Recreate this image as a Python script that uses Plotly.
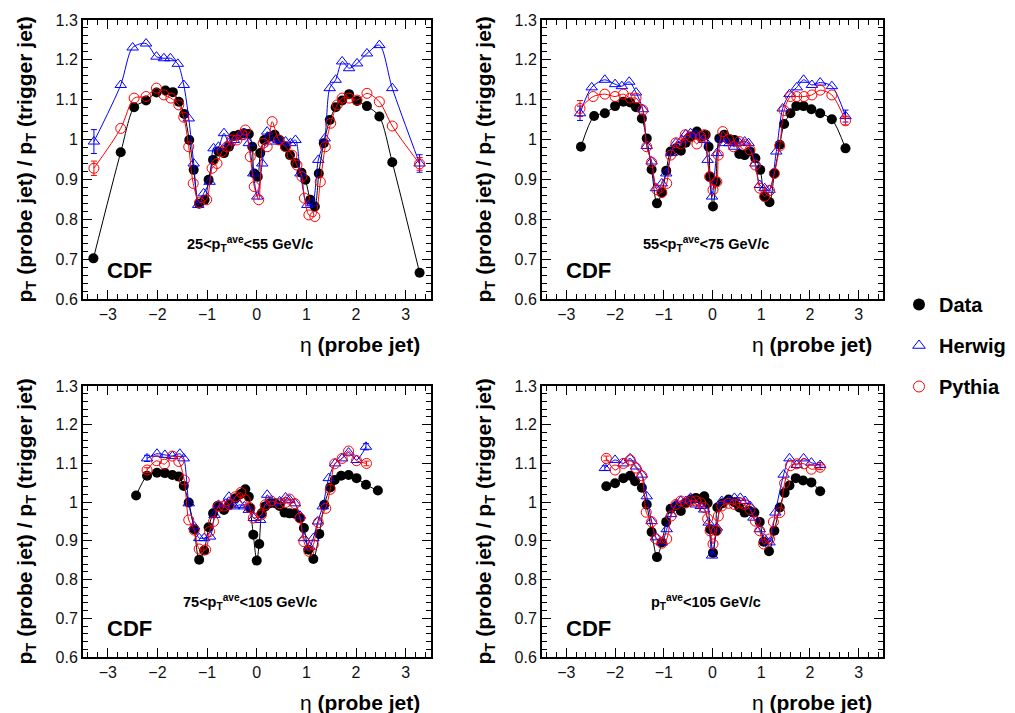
import plotly.graph_objects as go

# ---------------- data ----------------
# Panel 1: 25 < pT_ave < 55
eta_d1 = [-3.29, -2.74, -2.47, -2.23, -2.02, -1.84, -1.69, -1.57, -1.46, -1.36, -1.27, -1.16, -1.05, -0.97, -0.88,
          -0.77, -0.66, -0.56, -0.46, -0.36, -0.26, -0.16, -0.09, -0.05, 0.02, 0.07, 0.15, 0.26, 0.36, 0.46, 0.57,
          0.67, 0.78, 0.90, 0.98, 1.08, 1.17, 1.25, 1.35, 1.47, 1.59, 1.72, 1.86, 2.02, 2.22, 2.47, 2.73, 3.28]
val_d1 = [0.702, 0.968, 1.081, 1.098, 1.118, 1.123, 1.119, 1.095, 1.064, 0.999, 0.924, 0.839, 0.849, 0.899, 0.949,
          0.970, 0.966, 0.982, 1.009, 1.012, 1.016, 1.014, 0.982, 0.915, 0.907, 0.966, 0.999, 1.007, 1.012, 0.999,
          0.982, 0.961, 0.941, 0.917, 0.899, 0.849, 0.832, 0.915, 0.991, 1.049, 1.081, 1.098, 1.114, 1.097, 1.084,
          1.058, 0.943, 0.666]
eta_h1 = [-3.28, -2.74, -2.50, -2.23, -2.02, -1.87, -1.74, -1.59, -1.47, -1.37, -1.27, -1.18, -1.07, -0.95, -0.87,
          -0.77, -0.66, -0.56, -0.46, -0.34, -0.26, -0.16, -0.07, 0.01, 0.11, 0.21, 0.31, 0.44, 0.58, 0.68, 0.78,
          0.88, 1.02, 1.12, 1.24, 1.37, 1.47, 1.59, 1.72, 1.86, 2.02, 2.22, 2.47, 2.73, 3.28]
val_h1 = [0.995, 1.137, 1.231, 1.241, 1.208, 1.204, 1.204, 1.190, 1.137, 1.053, 0.940, 0.836, 0.865, 0.894, 0.978,
          0.982, 1.016, 0.991, 0.999, 1.007, 1.016, 0.991, 0.915, 0.857, 0.940, 1.020, 0.995, 0.999, 0.995, 0.991,
          0.999, 0.915, 0.836, 0.840, 0.949, 1.003, 1.129, 1.150, 1.196, 1.179, 1.191, 1.216, 1.237, 1.129, 0.940]
eta_p1 = [-3.28, -2.74, -2.47, -2.23, -2.02, -1.87, -1.73, -1.57, -1.47, -1.37, -1.28, -1.15, -1.01, -0.90, -0.80,
          -0.70, -0.60, -0.50, -0.40, -0.30, -0.23, -0.13, -0.05, 0.04, 0.13, 0.21, 0.31, 0.44, 0.58, 0.71, 0.81,
          0.91, 0.96, 1.05, 1.17, 1.28, 1.38, 1.49, 1.62, 1.72, 1.86, 2.02, 2.22, 2.47, 2.73, 3.28]
val_p1 = [0.928, 1.028, 1.104, 1.108, 1.129, 1.112, 1.104, 1.087, 1.056, 0.982, 0.890, 0.842, 0.849, 0.928, 0.940,
          0.970, 0.982, 0.999, 0.999, 1.012, 1.024, 0.957, 0.882, 0.849, 0.991, 0.982, 1.045, 0.999, 0.982, 0.961,
          0.936, 0.907, 0.853, 0.811, 0.807, 0.894, 0.982, 1.041, 1.087, 1.104, 1.104, 1.099, 1.116, 1.095, 1.034,
          0.939]

# Panel 2: 55 < pT_ave < 75
eta_d2 = [-2.70, -2.43, -2.21, -2.00, -1.83, -1.69, -1.57, -1.45, -1.35, -1.25, -1.14, -1.04, -0.95, -0.86, -0.75,
          -0.65, -0.55, -0.45, -0.32, -0.22, -0.14, -0.08, -0.05, 0.01, 0.07, 0.14, 0.24, 0.35, 0.45, 0.55, 0.66,
          0.77, 0.88, 0.98, 1.07, 1.17, 1.27, 1.38, 1.47, 1.60, 1.72, 1.87, 2.03, 2.21, 2.45, 2.73]
val_d2 = [0.982, 1.059, 1.066, 1.084, 1.095, 1.093, 1.081, 1.053, 1.003, 0.925, 0.840, 0.867, 0.922, 0.970, 0.978,
          0.972, 0.992, 1.007, 1.020, 1.007, 1.012, 0.982, 0.907, 0.832, 0.894, 1.003, 1.012, 1.001, 0.999, 0.964,
          0.961, 0.970, 0.953, 0.924, 0.857, 0.843, 0.915, 0.987, 1.039, 1.066, 1.084, 1.084, 1.076, 1.066, 1.051,
          0.978]
eta_h2 = [-2.72, -2.48, -2.21, -2.00, -1.86, -1.71, -1.57, -1.43, -1.35, -1.25, -1.16, -1.04, -0.95, -0.84, -0.75,
          -0.63, -0.55, -0.45, -0.34, -0.24, -0.17, -0.10, -0.01, 0.09, 0.18, 0.26, 0.35, 0.45, 0.55, 0.66, 0.74,
          0.88, 0.97, 1.07, 1.17, 1.31, 1.44, 1.58, 1.73, 1.87, 2.04, 2.21, 2.45, 2.73]
val_h2 = [1.066, 1.131, 1.150, 1.139, 1.134, 1.145, 1.118, 1.076, 0.984, 0.945, 0.878, 0.890, 0.915, 0.966, 0.991,
          0.999, 1.013, 1.016, 1.012, 1.009, 0.999, 0.949, 0.857, 0.966, 1.003, 0.991, 0.991, 0.982, 0.992, 0.995,
          0.991, 0.940, 0.886, 0.878, 0.874, 0.970, 1.078, 1.114, 1.131, 1.150, 1.137, 1.143, 1.134, 1.059]
eta_p2 = [-2.72, -2.45, -2.21, -2.00, -1.83, -1.69, -1.57, -1.43, -1.35, -1.25, -1.14, -1.04, -0.94, -0.86, -0.75,
          -0.65, -0.56, -0.45, -0.32, -0.24, -0.17, -0.06, 0.01, 0.09, 0.12, 0.21, 0.33, 0.43, 0.55, 0.67, 0.77,
          0.88, 0.97, 1.07, 1.17, 1.27, 1.38, 1.47, 1.60, 1.73, 1.88, 2.04, 2.21, 2.45, 2.73]
val_p2 = [1.078, 1.108, 1.114, 1.108, 1.114, 1.104, 1.104, 1.074, 0.982, 0.943, 0.874, 0.867, 0.890, 0.961, 0.992,
          0.989, 1.012, 1.007, 0.989, 1.007, 1.012, 0.907, 0.874, 0.894, 0.961, 1.020, 1.001, 0.982, 0.995, 0.987,
          0.974, 0.936, 0.878, 0.857, 0.872, 0.915, 0.984, 1.073, 1.108, 1.108, 1.108, 1.112, 1.124, 1.112, 1.047]

# Panel 3: 75 < pT_ave < 105
eta_d3 = [-2.43, -2.21, -2.01, -1.85, -1.70, -1.57, -1.47, -1.37, -1.26, -1.16, -1.06, -0.97, -0.88, -0.79, -0.66,
          -0.56, -0.43, -0.32, -0.23, -0.16, -0.13, -0.07, 0.00, 0.05, 0.10, 0.17, 0.27, 0.37, 0.46, 0.56, 0.66,
          0.77, 0.87, 0.95, 1.04, 1.14, 1.26, 1.36, 1.48, 1.57, 1.70, 1.85, 2.01, 2.20, 2.44]
val_d3 = [1.017, 1.068, 1.076, 1.075, 1.070, 1.066, 1.042, 0.999, 0.930, 0.851, 0.875, 0.935, 0.971, 0.990, 0.980,
          0.993, 1.010, 1.021, 1.033, 1.014, 0.984, 0.916, 0.849, 0.892, 0.971, 0.989, 0.997, 0.997, 0.990, 0.973,
          0.971, 0.970, 0.959, 0.933, 0.877, 0.853, 0.918, 0.993, 1.038, 1.057, 1.068, 1.070, 1.062, 1.045, 1.030]
eta_h3 = [-2.21, -2.01, -1.85, -1.70, -1.55, -1.47, -1.37, -1.26, -1.16, -1.06, -0.94, -0.85, -0.77, -0.66, -0.56,
          -0.46, -0.34, -0.25, -0.16, -0.06, 0.07, 0.21, 0.31, 0.46, 0.58, 0.66, 0.77, 0.87, 0.95, 1.06, 1.14,
          1.23, 1.33, 1.45, 1.58, 1.72, 1.85, 2.01, 2.20]
val_h3 = [1.113, 1.125, 1.122, 1.119, 1.125, 1.113, 0.997, 0.937, 0.907, 0.907, 0.911, 0.967, 0.993, 0.993, 1.014,
          0.989, 0.993, 0.989, 0.980, 0.959, 0.954, 1.019, 0.997, 1.002, 1.012, 1.006, 0.997, 0.965, 0.907, 0.885,
          0.907, 0.950, 0.989, 1.062, 1.100, 1.113, 1.128, 1.109, 1.143]
eta_p3 = [-2.21, -2.02, -1.86, -1.70, -1.57, -1.46, -1.37, -1.26, -1.16, -1.03, -0.95, -0.87, -0.77, -0.66, -0.55,
          -0.43, -0.32, -0.23, -0.14, -0.07, 0.09, 0.17, 0.29, 0.46, 0.58, 0.66, 0.77, 0.87, 0.95, 1.05, 1.14,
          1.24, 1.39, 1.48, 1.57, 1.72, 1.85, 2.01, 2.21]
val_p3 = [1.083, 1.107, 1.098, 1.119, 1.105, 1.057, 0.954, 0.928, 0.879, 0.877, 0.924, 0.950, 0.989, 0.990, 0.993,
          1.014, 1.025, 1.006, 0.986, 0.959, 0.967, 0.993, 1.003, 0.996, 0.999, 1.008, 0.996, 0.959, 0.898, 0.873,
          0.890, 0.947, 0.984, 1.033, 1.099, 1.113, 1.132, 1.107, 1.100]

# Panel 4: pT_ave > 105
eta_d4 = [-2.18, -2.00, -1.83, -1.69, -1.59, -1.45, -1.35, -1.25, -1.14, -1.04, -0.95, -0.86, -0.75, -0.65, -0.55,
          -0.45, -0.34, -0.24, -0.17, -0.10, -0.05, 0.01, 0.07, 0.10, 0.21, 0.33, 0.45, 0.55, 0.66, 0.76, 0.86,
          0.97, 1.05, 1.16, 1.27, 1.38, 1.48, 1.58, 1.71, 1.86, 2.03, 2.21]
val_d4 = [1.041, 1.049, 1.062, 1.068, 1.054, 1.037, 0.994, 0.923, 0.858, 0.896, 0.949, 0.983, 0.990, 0.977, 0.998,
          1.007, 1.011, 1.007, 1.015, 0.998, 0.930, 0.869, 0.926, 0.986, 0.997, 1.007, 1.000, 0.986, 0.973, 0.977,
          0.973, 0.949, 0.898, 0.873, 0.926, 0.986, 1.024, 1.043, 1.062, 1.056, 1.051, 1.028]
eta_h4 = [-2.21, -2.00, -1.83, -1.69, -1.57, -1.45, -1.35, -1.25, -1.16, -1.04, -0.94, -0.85, -0.75, -0.65, -0.55,
          -0.45, -0.34, -0.24, -0.17, -0.08, -0.01, 0.09, 0.19, 0.33, 0.45, 0.57, 0.67, 0.77, 0.84, 0.97, 1.07,
          1.17, 1.29, 1.46, 1.58, 1.73, 1.87, 2.03, 2.21]
val_h4 = [1.088, 1.109, 1.100, 1.113, 1.092, 1.071, 1.015, 0.951, 0.909, 0.896, 0.930, 0.969, 0.994, 1.003, 1.003,
          1.011, 0.994, 0.990, 0.981, 0.947, 0.862, 0.934, 1.003, 1.003, 1.011, 1.011, 1.003, 0.990, 0.960, 0.930,
          0.905, 0.896, 0.973, 1.071, 1.113, 1.096, 1.113, 1.102, 1.096]
eta_p4 = [-2.18, -2.00, -1.83, -1.69, -1.57, -1.45, -1.36, -1.25, -1.16, -1.04, -0.94, -0.85, -0.75, -0.65, -0.55,
          -0.45, -0.34, -0.24, -0.17, -0.10, -0.05, 0.01, 0.08, 0.12, 0.19, 0.33, 0.45, 0.57, 0.66, 0.77, 0.88,
          0.97, 1.05, 1.17, 1.25, 1.38, 1.48, 1.60, 1.73, 1.88, 2.03, 2.21]
val_p4 = [1.113, 1.083, 1.100, 1.109, 1.088, 1.068, 0.974, 0.949, 0.905, 0.894, 0.905, 0.964, 0.994, 1.003, 0.998,
          1.003, 1.003, 0.998, 0.986, 0.957, 0.926, 0.892, 0.926, 0.964, 0.990, 0.997, 0.994, 0.998, 0.994, 0.981,
          0.951, 0.926, 0.892, 0.905, 0.949, 0.973, 1.049, 1.094, 1.099, 1.099, 1.085, 1.090]

# visible statistical errors on the end points (first, last) of MC curves
err_ends_h = [(0.030, 0.022), (0.018, 0.015), (0.008, 0.008), (0.006, 0.006)]
err_ends_p = [(0.018, 0.016), (0.020, 0.010), (0.006, 0.006), (0.006, 0.006)]

panel_labels = ["<b>25&lt;p<sub>T</sub><sup>ave</sup>&lt;55 GeV/c</b>",
                "<b>55&lt;p<sub>T</sub><sup>ave</sup>&lt;75 GeV/c</b>",
                "<b>75&lt;p<sub>T</sub><sup>ave</sup>&lt;105 GeV/c</b>",
                "<b>p<sub>T</sub><sup>ave</sup>&lt;105 GeV/c</b>"]
series_names = ["Data", "Herwig", "Pythia"]
y_tickvals = [0.6, 0.7, 0.8, 0.9, 1.0, 1.1, 1.2, 1.3]
y_ticktext = ["0.6", "0.7", "0.8", "0.9", "1", "1.1", "1.2", "1.3"]
x_tickvals = [-3, -2, -1, 0, 1, 2, 3]

panels = [
    (eta_d1, val_d1, eta_h1, val_h1, eta_p1, val_p1),
    (eta_d2, val_d2, eta_h2, val_h2, eta_p2, val_p2),
    (eta_d3, val_d3, eta_h3, val_h3, eta_p3, val_p3),
    (eta_d4, val_d4, eta_h4, val_h4, eta_p4, val_p4),
]

# ---------------- layout geometry ----------------
# page pixel positions; the page body has an 8px margin, so the figure is
# offset by OFF pixels from the window corner.
OFF = 8
W, H = 1015 - OFF, 713 - OFF
FONT = "Liberation Sans, Arial, sans-serif"
px_boxes = [  # left, right, top, bottom (page px)
    (83, 430.5, 20, 299),
    (542, 883, 20, 299),
    (83, 430.5, 386, 657),
    (542, 883, 386, 657),
]
BLUE, RED = "#0000ff", "#ff0000"


def fx(p):
    return (p - OFF) / W


def fy(p):
    return 1 - (p - OFF) / H


fig = go.Figure()
layout = dict(width=W, height=H, margin=dict(l=0, r=0, t=0, b=0, autoexpand=False),
              paper_bgcolor="white", plot_bgcolor="white",
              font=dict(family=FONT, color="black"), showlegend=True)
annotations = []

for i, (ed, vd, eh, vh, ep, vp) in enumerate(panels):
    k = "" if i == 0 else str(i + 1)
    xa, ya = "x" + k, "y" + k
    l, r, t, b = px_boxes[i]
    layout["xaxis" + k] = dict(
        domain=[fx(l), fx(r)], range=[-3.5, 3.5], anchor=ya,
        tickvals=x_tickvals, ticks="inside", ticklen=9, tickwidth=1, tickcolor="black",
        showline=True, linecolor="black", linewidth=2, mirror="ticks",
        showgrid=False, zeroline=False, tickfont=dict(size=16, family=FONT, color="#111"),
        minor=dict(ticks="inside", ticklen=5, dtick=0.2, tickcolor="black", showgrid=False),
    )
    layout["yaxis" + k] = dict(
        domain=[fy(b), fy(t)], range=[0.6, 1.3], anchor=xa,
        tickvals=y_tickvals, ticktext=y_ticktext, ticks="inside", ticklen=9, tickwidth=1,
        tickcolor="black", showline=True, linecolor="black", linewidth=2, mirror="ticks",
        showgrid=False, zeroline=False, tickfont=dict(size=16, family=FONT, color="#111"),
        minor=dict(ticks="inside", ticklen=5, dtick=0.02, tickcolor="black", showgrid=False),
    )
    fig.add_trace(go.Scatter(
        x=ed, y=vd, xaxis=xa, yaxis=ya, mode="lines+markers", name=series_names[0],
        showlegend=False,
        line=dict(color="black", width=1, shape="spline", smoothing=0.8),
        marker=dict(symbol="circle", size=10, color="black")))
    # end-point error bars
    for (ex, ev, ends, col) in ((eh, vh, err_ends_h[i], BLUE), (ep, vp, err_ends_p[i], RED)):
        fig.add_trace(go.Scatter(
            x=[ex[0], ex[-1]], y=[ev[0], ev[-1]], xaxis=xa, yaxis=ya, mode="markers",
            showlegend=False, hoverinfo="skip",
            marker=dict(size=1, color="rgba(0,0,0,0)"),
            error_y=dict(type="data", array=list(ends), color=col, thickness=1, width=3)))
    fig.add_trace(go.Scatter(
        x=eh, y=vh, xaxis=xa, yaxis=ya, mode="lines+markers", name=series_names[1],
        showlegend=False,
        line=dict(color=BLUE, width=1, shape="spline", smoothing=0.8),
        marker=dict(symbol="triangle-up-open", size=10, color=BLUE, line=dict(width=1))))
    fig.add_trace(go.Scatter(
        x=ep, y=vp, xaxis=xa, yaxis=ya, mode="lines+markers", name=series_names[2],
        showlegend=False,
        line=dict(color=RED, width=1, shape="spline", smoothing=0.8),
        marker=dict(symbol="circle-open", size=10, color=RED, line=dict(width=1))))

    # y-axis title
    annotations.append(dict(
        text="<b>p<sub>T</sub> (probe jet) / p<sub>T</sub> (trigger jet)</b>",
        xref="paper", yref="paper", x=fx(l - 58), y=fy((t + b) / 2),
        textangle=-90, showarrow=False, font=dict(size=21, family=FONT, color="black"),
        xanchor="center", yanchor="middle"))
    # x-axis title
    annotations.append(dict(
        text="η <b>(probe jet)</b>", xref="paper", yref="paper",
        x=fx(r - 9), y=fy(b + 45), showarrow=False,
        font=dict(size=21, family=FONT, color="black"), xanchor="right", yanchor="middle"))
    # CDF label
    annotations.append(dict(
        text="<b>CDF</b>", xref="paper", yref="paper", x=fx(l + 22), y=fy(b - 29),
        showarrow=False, font=dict(size=22, family=FONT, color="black"),
        xanchor="left", yanchor="middle"))
    # pT range label
    annotations.append(dict(
        text=panel_labels[i], xref="paper", yref="paper",
        x=fx((l + r) / 2 - 7), y=fy(b - 55), showarrow=False,
        font=dict(size=14.5, family=FONT, color="black"), xanchor="center", yanchor="middle"))

# legend-only entries (markers only)
legend_styles = [
    dict(symbol="circle", size=12, color="black"),
    dict(symbol="triangle-up-open", size=11, color=BLUE, line=dict(width=1)),
    dict(symbol="circle-open", size=11, color=RED, line=dict(width=1)),
]
for name, mk in zip(series_names, legend_styles):
    fig.add_trace(go.Scatter(x=[None], y=[None], mode="markers", name=name, marker=mk,
                             legendgroup=name, showlegend=True))

layout["annotations"] = annotations
layout["legend"] = dict(x=fx(899), y=fy(285), xanchor="left", yanchor="top",
                        font=dict(size=20, family=FONT, color="black", weight="bold"),
                        tracegroupgap=12, bgcolor="rgba(0,0,0,0)", itemwidth=30)
fig.update_layout(**layout)
fig.write_html("out.html")
